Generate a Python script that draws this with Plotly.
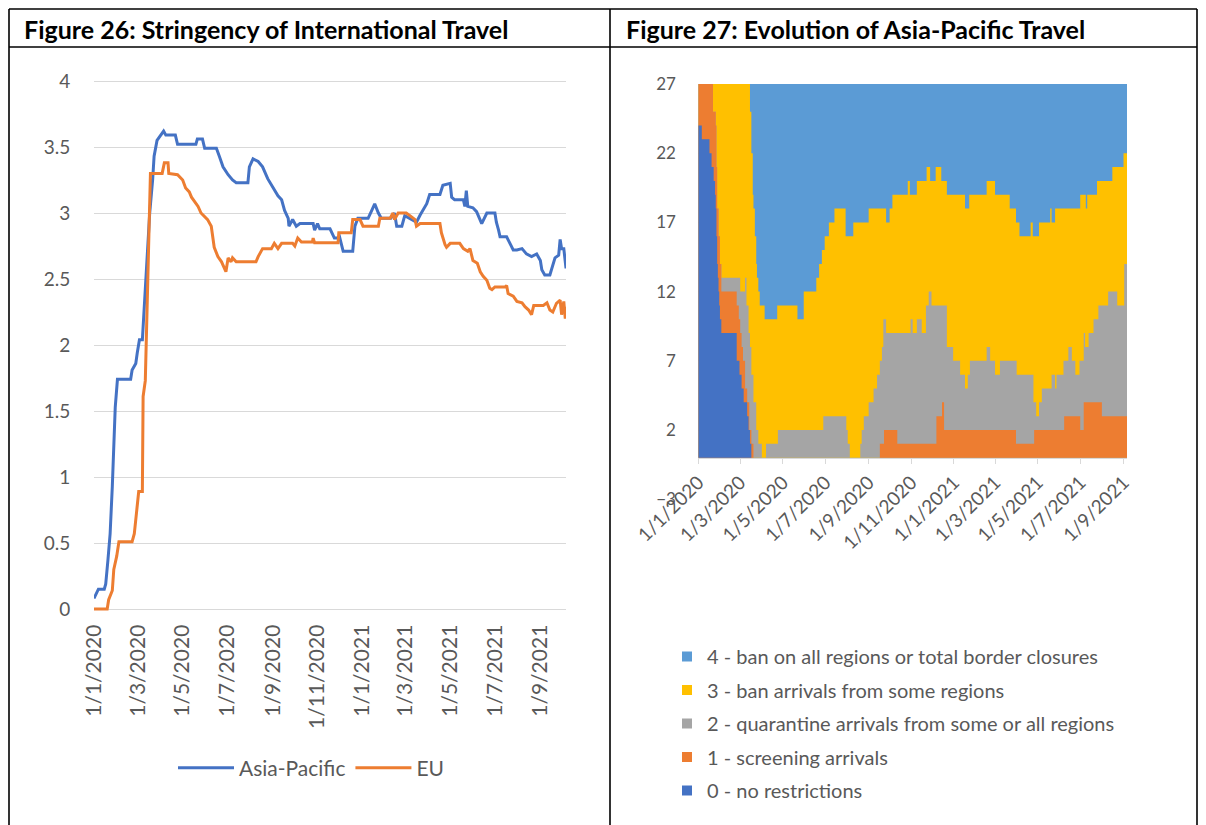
import pandas as pd
import plotly.graph_objects as go

W, H = 1206, 825
BASE = pd.Timestamp("2020-01-01")

# ---------------- Figure 26 data (day offset from 1/1/2020, stringency index) ----------------
ap_days = [0, 3, 6, 14, 16, 19, 22, 25, 27, 29,
           32, 50, 52, 57, 59, 62, 66, 68, 72, 76,
           80, 82, 86, 91, 95, 98, 111, 114, 139, 141,
           148, 151, 167, 171, 176, 183, 189, 194, 210, 212,
           217, 224, 230, 237, 244, 251, 256, 260, 265, 266,
           271, 276, 281, 299, 301, 305, 308, 322, 328, 333,
           335, 340, 353, 356, 360, 374, 379, 383, 388, 392,
           405, 410, 413, 420, 424, 440, 445, 454, 458, 472,
           476, 486, 488, 492, 504, 506, 508, 510, 517, 522,
           529, 532, 536, 547, 549, 552, 554, 563, 568, 572,
           577, 584, 590, 597, 604, 609, 611, 615, 622, 625,
           629, 634, 636, 638, 641, 644]
ap_vals = [0.08, 0.12, 0.15, 0.15, 0.19, 0.37, 0.57, 0.93, 1.31, 1.53,
           1.74, 1.74, 1.81, 1.86, 1.94, 2.04, 2.04, 2.24, 2.62, 3.00,
           3.25, 3.43, 3.55, 3.59, 3.62, 3.59, 3.59, 3.52, 3.52, 3.56,
           3.56, 3.49, 3.49, 3.43, 3.35, 3.29, 3.25, 3.23, 3.23, 3.35,
           3.41, 3.39, 3.35, 3.26, 3.19, 3.13, 3.10, 3.02, 2.96, 2.90,
           2.95, 2.90, 2.92, 2.92, 2.87, 2.92, 2.88, 2.88, 2.81, 2.81,
           2.82, 2.71, 2.71, 2.90, 2.96, 2.96, 3.02, 3.07, 3.00, 2.96,
           2.96, 3.00, 2.90, 2.90, 2.98, 2.93, 2.985, 3.07, 3.14, 3.14,
           3.21, 3.225, 3.12, 3.10, 3.10, 3.05, 3.17, 3.05, 3.04, 3.01,
           2.92, 2.96, 3.00, 3.00, 2.93, 2.87, 2.82, 2.82, 2.77, 2.72,
           2.72, 2.73, 2.69, 2.67, 2.69, 2.64, 2.57, 2.53, 2.53, 2.59,
           2.66, 2.68, 2.80, 2.73, 2.73, 2.58]

eu_days = [0, 18, 20, 25, 27, 31, 34, 52, 55, 57,
           61, 66, 67, 70, 73, 75, 77, 93, 96, 101,
           102, 114, 121, 125, 130, 133, 137, 142, 146, 151,
           155, 160, 164, 169, 174, 180, 183, 187, 189, 194,
           221, 224, 230, 242, 246, 251, 256, 271, 274, 278,
           283, 298, 299, 301, 333, 334, 351, 353, 363, 367,
           388, 390, 404, 408, 410, 415, 426, 431, 438, 440,
           445, 472, 474, 479, 481, 486, 499, 504, 510, 513,
           517, 523, 527, 531, 536, 540, 543, 547, 561, 563,
           565, 572, 577, 584, 588, 593, 597, 600, 613, 618,
           622, 626, 631, 636, 638, 641, 643, 644]
eu_vals = [0.00, 0.00, 0.07, 0.14, 0.30, 0.40, 0.51, 0.51, 0.57, 0.67,
           0.89, 0.89, 1.61, 1.73, 2.44, 3.05, 3.30, 3.30, 3.38, 3.38,
           3.30, 3.29, 3.25, 3.19, 3.16, 3.12, 3.09, 3.05, 3.00, 2.97,
           2.95, 2.90, 2.74, 2.67, 2.63, 2.555, 2.66, 2.63, 2.66, 2.63,
           2.63, 2.67, 2.73, 2.73, 2.77, 2.73, 2.77, 2.77, 2.75, 2.81,
           2.78, 2.78, 2.81, 2.775, 2.775, 2.85, 2.85, 2.95, 2.95, 2.90,
           2.90, 2.96, 2.96, 3.00, 2.95, 3.00, 3.00, 2.98, 2.95, 2.90,
           2.92, 2.92, 2.85, 2.76, 2.74, 2.77, 2.77, 2.73, 2.71, 2.73,
           2.64, 2.62, 2.555, 2.52, 2.49, 2.43, 2.42, 2.44, 2.44, 2.45,
           2.39, 2.37, 2.33, 2.32, 2.29, 2.265, 2.23, 2.30, 2.30, 2.32,
           2.265, 2.25, 2.316, 2.34, 2.23, 2.33, 2.20, 2.29]

line_names = ["Asia-Pacific", "EU"]
line_colors = ["#4472C4", "#ED7D31"]

# ---------------- Figure 27 data: number of the 27 economies at or below each level ----------------
total_economies = 27
last_day = 614

lvl0_days = [0, 5, 16, 19, 22, 24, 25, 26, 27, 28, 29, 30, 31, 33, 55, 59, 62, 65, 70, 72, 74, 76]
lvl0_vals = [24, 23, 22, 21, 20, 19, 18, 16, 14, 13, 12, 11, 10, 9, 7, 6, 5, 4, 3, 2, 1, 0]

lvl1_days = [0, 21, 25, 26, 27, 29, 31, 33, 55, 58, 60, 62, 64, 67, 70, 73, 76, 79,
             260, 266, 285, 341, 349, 352, 455, 481, 524, 547, 552, 578]
lvl1_vals = [27, 25, 24, 21, 18, 16, 14, 12, 11, 10, 9, 8, 7, 5, 4, 2, 1, 0,
             1, 2, 1, 3, 4, 2, 1, 2, 3, 2, 4, 3]

lvl2_days = [0, 21, 25, 26, 27, 29, 31, 33,
             60, 67, 69, 72, 74, 76, 79, 83, 86, 91,
             97, 114, 179, 212, 214, 217, 232, 234, 237, 244,
             251, 256, 260, 263, 265, 269, 304, 307, 313, 320,
             326, 330, 334, 356, 365, 375, 382, 386, 389, 413,
             418, 425, 432, 456, 480, 484, 488, 492, 506, 511,
             513, 523, 530, 535, 540, 546, 552, 554, 559, 566,
             573, 587, 600, 610]
lvl2_vals = [27, 25, 24, 21, 18, 16, 14, 13,
             12, 13, 11, 9, 8, 6, 4, 2, 1, 0,
             1, 2, 3, 2, 1, 0, 1, 2, 3, 4,
             5, 6, 7, 8, 10, 9, 10, 9, 10, 9,
             11, 12, 11, 8, 7, 6, 5, 6, 7, 8,
             7, 6, 7, 6, 4, 3, 4, 5, 6, 5,
             6, 7, 8, 7, 6, 7, 9, 8, 9, 10,
             11, 12, 11, 14]

lvl3_days = [0, 74, 76, 78, 79, 81, 83, 84, 86, 88,
             95, 113, 142, 151, 169, 173, 177, 181, 187, 195,
             211, 222, 244, 269, 274, 278, 300, 303, 313, 327,
             332, 340, 348, 356, 382, 388, 413, 425, 446, 455,
             460, 476, 479, 488, 504, 506, 511, 547, 555, 557,
             571, 593, 609]
lvl3_vals = [27, 25, 22, 19, 18, 16, 14, 13, 12, 11,
             10, 11, 10, 12, 13, 14, 15, 16, 17, 18,
             16, 17, 18, 17, 18, 19, 20, 19, 20, 21,
             20, 21, 20, 19, 18, 19, 20, 19, 18, 17,
             16, 17, 16, 17, 18, 17, 18, 19, 18, 19,
             20, 21, 22]

lvl4_days = [0]
lvl4_vals = [total_economies]

level_names = ["0 - no restrictions", "1 - screening arrivals",
               "2 - quarantine arrivals from some or all regions",
               "3 - ban arrivals from some regions",
               "4 - ban on all regions or total border closures"]
level_colors = ["#4472C4", "#ED7D31", "#A5A5A5", "#FFC000", "#5B9BD5"]

tick_dates = ["2020-01-01", "2020-03-01", "2020-05-01", "2020-07-01", "2020-09-01", "2020-11-01",
              "2021-01-01", "2021-03-01", "2021-05-01", "2021-07-01", "2021-09-01"]
tick_text = ["1/1/2020", "1/3/2020", "1/5/2020", "1/7/2020", "1/9/2020", "1/11/2020",
             "1/1/2021", "1/3/2021", "1/5/2021", "1/7/2021", "1/9/2021"]

titles = ["Figure 26: Stringency of International Travel", "Figure 27: Evolution of Asia-Pacific Travel"]


def to_dates(days):
    return [BASE + pd.Timedelta(days=int(d)) for d in days]


# the page body has an 8px margin, so target screen pixels are shifted by it
OFF = 8


def px_x(p):
    return (p - OFF) / W


def px_y(p):
    return 1 - (p - OFF) / H


TXT = "#595959"
GRID = "#D9D9D9"
FONT = "Lato, Carlito, Calibri, sans-serif"

fig = go.Figure()

# ---- Figure 26 lines
for name, col, d, v in [(line_names[0], line_colors[0], ap_days, ap_vals),
                        (line_names[1], line_colors[1], eu_days, eu_vals)]:
    fig.add_trace(go.Scatter(x=to_dates(d), y=v, mode="lines", name=name,
                             line=dict(color=col, width=3), xaxis="x", yaxis="y",
                             legend="legend"))

# ---- Figure 27 stacked areas (drawn as cumulative levels, top level first)
levels = [(lvl4_days, lvl4_vals), (lvl3_days, lvl3_vals), (lvl2_days, lvl2_vals),
          (lvl1_days, lvl1_vals), (lvl0_days, lvl0_vals)]
for k, (d, v) in zip([4, 3, 2, 1, 0], levels):
    xs = to_dates(list(d) + [last_day])
    ys = list(v) + [v[-1]]
    fig.add_trace(go.Scatter(x=xs, y=ys, mode="lines", fill="tozeroy",
                             fillcolor=level_colors[k], line=dict(width=0, shape="hv", color=level_colors[k]),
                             xaxis="x2", yaxis="y2", showlegend=False, hoverinfo="skip"))
for k in [4, 3, 2, 1, 0]:
    fig.add_trace(go.Scatter(x=[None], y=[None], mode="markers", name=level_names[k],
                             marker=dict(symbol="square", size=10, color=level_colors[k]),
                             xaxis="x2", yaxis="y2", legend="legend2", legendgroup=str(k)))

# ---- axes
y0_px, y4_px = 609.0, 81.0
ppu = (y0_px - y4_px) / 4.0
pad = 0.04
fig.update_layout(
    xaxis=dict(domain=[px_x(94), px_x(566)], type="date",
               range=[BASE, BASE + pd.Timedelta(days=644)],
               tickmode="array", tickvals=tick_dates, ticktext=tick_text, tickangle=-90,
               ticks="outside", ticklen=1, tickcolor="rgba(0,0,0,0)",
               showgrid=False, zeroline=False, showline=False, automargin=False,
               tickfont=dict(size=21, color=TXT), anchor="y"),
    yaxis=dict(domain=[px_y(y0_px + pad * ppu), px_y(y4_px - pad * ppu)],
               range=[-pad, 4 + pad], tick0=0, dtick=0.5,
               showgrid=True, gridcolor=GRID, gridwidth=1.3, zeroline=False, showline=False,
               ticks="outside", ticklen=19, tickcolor="rgba(0,0,0,0)", automargin=False,
               tickfont=dict(size=19, color=TXT), anchor="x"),
    xaxis2=dict(domain=[px_x(698.3), px_x(1127)], type="date",
                range=[BASE, BASE + pd.Timedelta(days=last_day)],
                tickmode="array", tickvals=tick_dates, ticktext=tick_text, tickangle=-45,
                ticks="outside", ticklen=5, tickcolor=GRID, tickwidth=1.3,
                showline=True, linecolor=GRID, linewidth=1.3,
                showgrid=False, zeroline=False, automargin=False,
                anchor="free", position=px_y(457.7),
                tickfont=dict(size=19, color=TXT)),
    yaxis2=dict(domain=[px_y(499.2), px_y(84.0)], range=[-3, 27],
                tickmode="array", tickvals=[-3, 2, 7, 12, 17, 22, 27],
                showgrid=True, gridcolor=GRID, gridwidth=1.3, zeroline=False, showline=False,
                ticks="outside", ticklen=18, tickcolor="rgba(0,0,0,0)", automargin=False,
                tickfont=dict(size=17, color=TXT), anchor="x2"),
)

# ---- table frame and headers
frame = [(9, 9, 1197, 9), (9, 47, 1197, 47), (9, 9, 9, 840), (1197, 9, 1197, 840), (610, 9, 610, 840)]
shapes = [dict(type="line", xref="paper", yref="paper",
               x0=px_x(a), y0=px_y(b), x1=px_x(c), y1=px_y(e),
               line=dict(color="black", width=1.6)) for a, b, c, e in frame]

annotations = [
    dict(text="<b>%s</b>" % titles[0], x=px_x(22), y=px_y(28.5), xref="paper", yref="paper",
         xanchor="left", yanchor="middle", showarrow=False, font=dict(size=25, color="black", family=FONT)),
    dict(text="<b>%s</b>" % titles[1], x=px_x(624), y=px_y(28.5), xref="paper", yref="paper",
         xanchor="left", yanchor="middle", showarrow=False, font=dict(size=25, color="black", family=FONT)),
]

fig.update_layout(
    width=W, height=H, margin=dict(l=0, r=0, t=0, b=0, autoexpand=False),
    paper_bgcolor="white", plot_bgcolor="white",
    font=dict(family=FONT, color=TXT, size=17),
    shapes=shapes, annotations=annotations,
    legend=dict(orientation="h", x=px_x(311), xanchor="center", y=px_y(768), yanchor="middle",
                font=dict(size=21, color=TXT), bgcolor="rgba(0,0,0,0)", itemwidth=56),
    legend2=dict(orientation="v", x=px_x(667), xanchor="left", y=px_y(637), yanchor="top",
                 font=dict(size=20, color=TXT), bgcolor="rgba(0,0,0,0)", tracegroupgap=4.5),
    hovermode=False,
)

fig.write_html("out.html")
